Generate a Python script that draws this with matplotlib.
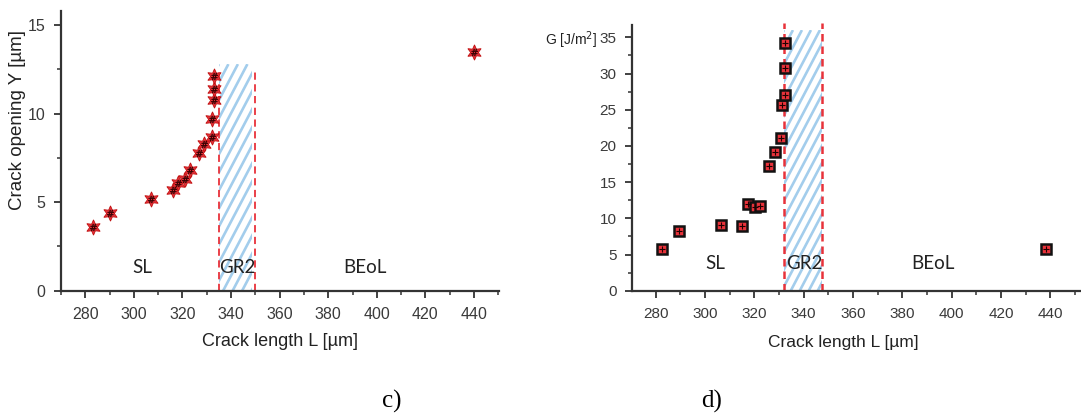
import matplotlib
matplotlib.use("Agg")
import numpy as np
import matplotlib.pyplot as plt
from matplotlib.ticker import MultipleLocator
from matplotlib.patches import Rectangle
from matplotlib.transforms import IdentityTransform

# ---- data: panel c) crack opening ----
L_c = [283.2, 290.0, 307.0, 316.0, 318.0, 321.0, 323.0, 327.0, 329.0, 332.0, 332.0, 333.0, 333.0, 333.0, 440.0]
Y_c = [3.6, 4.4, 5.2, 5.7, 6.1, 6.3, 6.8, 7.8, 8.3, 8.7, 9.7, 10.8, 11.4, 12.1, 13.5]

# ---- data: panel d) energy release rate ----
L_d = [282.7, 289.5, 306.3, 315.2, 317.3, 320.4, 322.2, 326.1, 328.3, 330.9, 331.2, 332.4, 332.4, 332.4, 438.4]
G_d = [5.7, 8.2, 9.1, 8.9, 12.0, 11.5, 11.7, 17.2, 19.2, 21.1, 25.6, 27.1, 30.7, 34.2, 5.8]

regions = ["SL", "GR2", "BEoL"]
region_x_c = [303.5, 342.5, 395.0]
region_x_d = [304.3, 340.1, 392.5]
gr2_c = (335.0, 350.0)
gr2_d = (332.0, 347.3)

xticks = [280, 300, 320, 340, 360, 380, 400, 420, 440]

axcol = '#333333'
tickcol = '#3a3a3a'
red = '#e8323a'
hatchcol = '#a3cdec'

fig = plt.figure(figsize=(10.81, 4.16), dpi=100)
W, H = 1081, 416

def axes_px(x0, x1, y0, y1):
    return fig.add_axes([x0 / W, 1 - y1 / H, (x1 - x0) / W, (y1 - y0) / H])

def style(ax, fs):
    for s in ['top', 'right']:
        ax.spines[s].set_visible(False)
    for s in ['left', 'bottom']:
        ax.spines[s].set_color(axcol)
        ax.spines[s].set_linewidth(1.6)
    ax.tick_params(which='major', direction='out', length=5, width=1.3, color=axcol,
                   labelsize=fs, labelcolor=tickcol)
    ax.tick_params(axis='x', which='major', pad=7)
    ax.tick_params(axis='y', which='major', pad=6)
    ax.tick_params(which='minor', direction='out', length=3, width=1.1, color=axcol)
    for lab in ax.get_xticklabels() + ax.get_yticklabels():
        lab.set_family('Liberation Sans')

def hatch(ax, x0, x1, y0, y1, spacing, slope, lw):
    clip = Rectangle((x0, y0), x1 - x0, y1 - y0, transform=ax.transData,
                     facecolor='none', edgecolor='none')
    ax.add_patch(clip)
    (px0, py0), (px1, py1) = ax.transData.transform([(x0, y0), (x1, y1)])
    h = py1 - py0
    run = h / slope
    for c in np.arange(px0 - run, px1 + spacing, spacing):
        ln, = ax.plot([c, c + run], [py0, py1], transform=IdentityTransform(),
                      color=hatchcol, lw=lw, solid_capstyle='butt', zorder=1)
        ln.set_clip_path(clip)

# ---------------- panel c ----------------
ax1 = axes_px(61, 499, 11, 290.7)
ax1.set_xlim(270, 450.3)
ax1.set_ylim(0, 15.8)
ax1.set_xticks(xticks)
ax1.xaxis.set_minor_locator(MultipleLocator(10))
ax1.yaxis.set_major_locator(MultipleLocator(5))
ax1.yaxis.set_minor_locator(MultipleLocator(2.5))
style(ax1, 11.5)

hatch(ax1, gr2_c[0], gr2_c[1] - 1.5, 0, 12.8, 9.5, 1.9, 1.9)
for xv in gr2_c:
    ax1.plot([xv, xv], [0, 12.5], ls=(0, (4, 2.5)), color=red, lw=1.3, zorder=2)
ax1.plot(L_c, Y_c, ls='none', marker=(6, 1, 0), ms=11, mfc=red, mec='#c01010', mew=0.6, zorder=3)
ax1.plot(L_c, Y_c, ls='none', marker='$\\#$', ms=5, color='#300000', mew=0.3, zorder=4)

for t, xv in zip(regions, region_x_c):
    ax1.text(xv, 1.3, t, ha='center', va='center', fontsize=13.5, family='Lato', color='#222222')

fig.text(280 / W, 1 - 341.5 / H, 'Crack length L [µm]', ha='center', va='center',
         fontsize=13, family='Liberation Sans', color='#222222')
fig.text(18 / W, 1 - 120 / H, 'Crack opening Y [µm]', rotation=90, ha='center', va='center',
         fontsize=13.5, family='Liberation Sans', color='#222222')

# ---------------- panel d ----------------
ax2 = axes_px(631.7, 1081, 25, 290.7)
ax2.set_xlim(270.3, 452.4)
ax2.set_ylim(0, 36.7)
ax2.set_xticks(xticks)
ax2.xaxis.set_minor_locator(MultipleLocator(10))
ax2.yaxis.set_major_locator(MultipleLocator(5))
ax2.yaxis.set_minor_locator(MultipleLocator(2.5))
style(ax2, 11)

hatch(ax2, gr2_d[0], gr2_d[1], 0, 36.0, 9.0, 1.9, 1.9)
for xv in gr2_d:
    ax2.plot([xv, xv], [0, 37.0], ls=(0, (3, 2)), color=red, lw=1.8, zorder=2, clip_on=False)
ax2.plot(L_d, G_d, ls='none', marker='s', ms=7, mfc=red, mec='#111111', mew=1.8, zorder=3)
ax2.plot(L_d, G_d, ls='none', marker='+', ms=4, color='#200000', mew=0.8, zorder=4)

for t, xv in zip(regions, region_x_d):
    ax2.text(xv, 3.7, t, ha='center', va='center', fontsize=13.5, family='Lato', color='#222222')

fig.text(843 / W, 1 - 343 / H, 'Crack length L [µm]', ha='center', va='center',
         fontsize=12.5, family='Liberation Sans', color='#222222')
fig.text(597 / W, 1 - 40 / H, 'G [J/m$^2$]', ha='right', va='center',
         fontsize=10, family='Liberation Sans', color='#222222')

# ---------------- captions ----------------
fig.text(392 / W, 1 - 401 / H, 'c)', ha='center', va='center', fontsize=18, family='Liberation Serif')
fig.text(712 / W, 1 - 401 / H, 'd)', ha='center', va='center', fontsize=18, family='Liberation Serif')

fig.savefig('out.png', dpi=100)
